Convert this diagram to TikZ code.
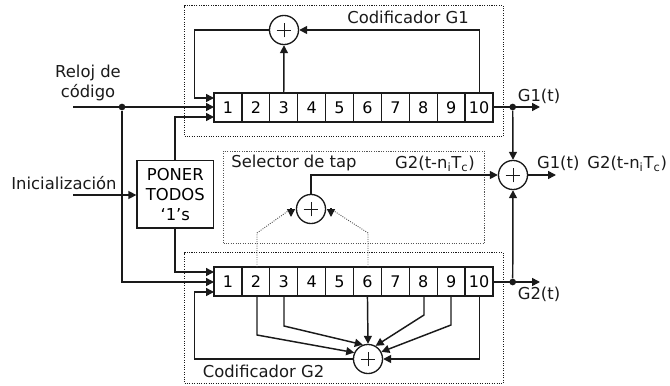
\documentclass[tikz,border=0pt]{standalone}
\usepackage{fontspec}
\setmainfont{DejaVu Sans}
\usepackage{tikz}
\usetikzlibrary{arrows.meta, positioning, calc}
\definecolor{ink}{HTML}{1A1A1A}
\definecolor{dotgray}{HTML}{555555}

\begin{document}
\begin{tikzpicture}[
  x=0.75pt, y=-0.75pt,
  cell/.style={draw=ink, rectangle, line width=1pt, minimum width=20.9pt, minimum height=21.6pt, inner sep=0pt, font=\fontsize{12}{14}\selectfont},
  sumnode/.style={draw=ink, circle, line width=1pt, minimum size=21.8pt, inner sep=0pt, path picture={
    \draw[ink, line width=0.7pt] ($(path picture bounding box.center)+(-5.5pt,0)$) -- ($(path picture bounding box.center)+(5.5pt,0)$);
    \draw[ink, line width=0.7pt] ($(path picture bounding box.center)+(0,-5.5pt)$) -- ($(path picture bounding box.center)+(0,5.5pt)$);}},
  frame/.style={draw=ink, densely dotted, line width=0.8pt},
  wire/.style={draw=ink, line width=1.1pt},
  tap/.style={draw=dotgray, densely dotted, line width=0.7pt},
  dotnode/.style={circle, fill=ink, inner sep=0pt, minimum size=5pt},
  lbl/.style={font=\fontsize{12.3}{15}\selectfont, inner sep=0pt, text=ink, align=center},
  >={Triangle[length=6pt, width=6pt]}
]
\useasboundingbox (0,0) rectangle (670,385);
% dotted frames
\node[frame, minimum width=239.2pt, minimum height=98.2pt, inner sep=0pt, anchor=north west] (boxgone) at (184,5) {};
\node[frame, minimum width=195.7pt, minimum height=69.4pt, inner sep=0pt, anchor=north west, draw=dotgray] (boxsel) at (223,150.5) {};
\node[frame, minimum width=239.2pt, minimum height=98.2pt, inner sep=0pt, anchor=north west] (boxgtwo) at (184,252) {};

% registers
\foreach \n in {1,...,10}{
  \node[cell] (a\n) at ({214+27.9*(\n-0.5)},107.5) {\n};
  \node[cell] (b\n) at ({214+27.9*(\n-0.5)},281.5) {\n};
}
\node[sumnode] (sumone) at (284,30) {};
\node[sumnode] (sumsel) at (311,209) {};
\node[sumnode] (sumtwo) at (368,359) {};
\node[sumnode] (sumout) at (513,175) {};
\node[draw=ink, line width=1pt, minimum width=57.4pt, minimum height=50.6pt, inner sep=0pt, align=center, font=\fontsize{12.3}{15}\selectfont] (poner) at (175.3,194.3) {PONER\\TODOS\\`1’s};

\coordinate (clk) at (73,107);
\coordinate (ini) at (73,195);
\coordinate (aone) at (214,98);
\coordinate (atwo) at (214,107);
\coordinate (athree) at (214,117);
\coordinate (bone) at (214,272);
\coordinate (btwo) at (214,282);
\coordinate (bthree) at (214,292);
\node[dotnode] (jclk) at (122,107) {};
\node[dotnode] (jone) at (512.7,107) {};
\node[dotnode] (jtwo) at (512.7,282) {};
\coordinate (gone) at (540,107);
\coordinate (gtwo) at (540,282);
\coordinate (gsum) at (556,175);
\coordinate (tapl) at (291,208);
\coordinate (tapr) at (331,208);

% encoder G1
\draw[wire,->] (sumone.west) -| (194.5,98) -- (aone);
\draw[wire,->] (a3.north) -- (sumone.south);
\draw[wire,->] (479.5,93) |- (sumone.east);

% clock and reset
\draw[wire,->] (clk) -- (atwo);
\draw[wire,->] (jclk) |- (btwo);
\draw[wire,->] (ini) -- (ini -| poner.west);
\draw[wire,->] (175,160.5) |- (athree);
\draw[wire,->] (175,228) |- (bone);

% outputs
\draw[wire,->] (a10.east |- jone) -- (gone);
\draw[wire,->] (b10.east |- jtwo) -- (gtwo);
\draw[wire,->] (jone) -- (sumout.north);
\draw[wire,->] (jtwo) -- (sumout.south);
\draw[wire,->] (sumout.east) -- (gsum);

% selector
\draw[wire,->] (sumsel.north) |- (sumout.west);
\draw[tap] (257,267) -- (257,233) -- (288,211);
\draw[tap] (368,267) -- (368,233) -- (334,211);
\draw[wire,->] (tapl) -- ++(0,9);
\draw[wire,->] (tapr) -- ++(0,9);

% encoder G2
\draw[wire,->] (257,296) -- (257,335) -- (sumtwo.155);
\draw[wire,->] (284,296) -- (284,326) -- (sumtwo.110);
\draw[wire,->] (b6.south) -- (sumtwo.north);
\draw[wire,->] (424,296) -- (424,315) -- (sumtwo.60);
\draw[wire,->] (451,296) -- (451,325) -- (sumtwo.28);
\draw[wire,->] (479.5,296) |- (sumtwo.east);
\draw[wire,->] (sumtwo.west) -| (194.5,292) -- (bthree);

% labels
\node[lbl] (lclk) at (88,83) {Reloj de\\código};
\node[lbl] (lini) at (64,183) {Inicialización};
\node[lbl] (lgone) at (408,17) {Codificador G1};
\node[lbl] (lgtwo) at (263.5,371) {Codificador G2};
\node[lbl] (lsel) at (294,163) {Selector de tap};
\node[lbl] (lsg) at (435,164) {G2(t-n\textsubscript{i}T\textsubscript{c})};
\node[lbl] (lout) at (539,96) {G1(t)};
\node[lbl] (lotwo) at (539,294) {G2(t)};
\node[lbl] (lsum) at (602,164) {G1(t)\, G2(t-n\textsubscript{i}T\textsubscript{c})};
\end{tikzpicture}
\end{document}
